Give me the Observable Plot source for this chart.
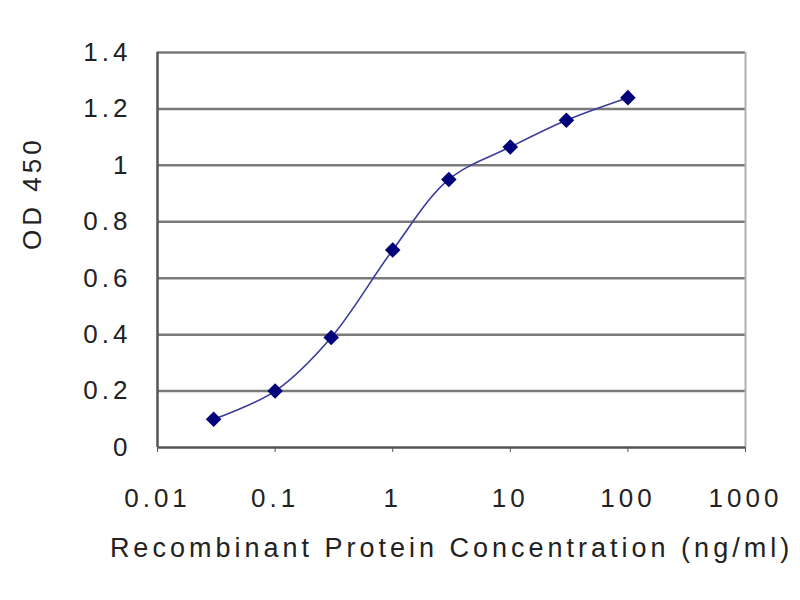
<!DOCTYPE html>
<html>
<head>
<meta charset="utf-8">
<script src="https://cdn.jsdelivr.net/npm/d3@7"></script>
<script src="https://cdn.jsdelivr.net/npm/@observablehq/plot@0.6"></script>
<style>
  body { margin: 0; background: #fff; }
</style>
</head>
<body>
<div id="chart"></div>
<script>
const concentrations = [0.03, 0.1, 0.3, 1, 3, 10, 30, 100];
const od450 = [0.10, 0.20, 0.39, 0.70, 0.95, 1.065, 1.16, 1.24];
const xTicks = [0.01, 0.1, 1, 10, 100, 1000];
const xTickLabels = ["0.01", "0.1", "1", "10", "100", "1000"];
const yTicks = [0, 0.2, 0.4, 0.6, 0.8, 1, 1.2, 1.4];
const yTickLabels = ["0", "0.2", "0.4", "0.6", "0.8", "1", "1.2", "1.4"];
const xTitle = "Recombinant Protein Concentration (ng/ml)";
const yTitle = "OD 450";

const data = concentrations.map((c, i) => ({c, od: od450[i]}));
const gridValues = yTicks.filter(v => v > 0);

const chart = Plot.plot({
  width: 800,
  height: 600,
  marginLeft: 157,
  marginRight: 55,
  marginTop: 52,
  marginBottom: 153,
  style: {fontFamily: "'Liberation Sans', Arial, sans-serif", fontSize: "26px", color: "#222", background: "#fff", letterSpacing: "4px"},
  x: {type: "log", domain: [0.01, 1000]},
  y: {domain: [0, 1.4]},
  marks: [
    Plot.ruleY(gridValues, {stroke: "#7a7a7a", strokeWidth: 2.5}),
    Plot.ruleX([1000], {stroke: "#b0b0b0", strokeWidth: 2}),
    Plot.ruleY([0], {stroke: "#555", strokeWidth: 2.5}),
    Plot.ruleX([0.01], {stroke: "#555", strokeWidth: 2.5}),
    Plot.axisX({ticks: xTicks, tickFormat: d => xTickLabels[xTicks.indexOf(d)], tickSize: 5, tickPadding: 36, stroke: "#555", fill: "#222", fontSize: 26, label: null}),
    Plot.axisY({ticks: yTicks, tickFormat: d => yTickLabels[yTicks.indexOf(d)], tickSize: 0, tickPadding: 26, fill: "#222", fontSize: 26, label: null}),
    Plot.line(data, {x: "c", y: "od", stroke: "#3b3b9c", strokeWidth: 1.6, curve: "catmull-rom"}),
    Plot.dot(data, {x: "c", y: "od", symbol: "diamond2", r: 7, fill: "#00007a", stroke: "none"}),
    Plot.text([xTitle], {frameAnchor: "bottom", dy: 109, dx: 0, fontSize: 27, fill: "#222", text: d => d}),
    Plot.text([yTitle], {frameAnchor: "left", dx: -125, rotate: -90, fontSize: 26, fill: "#222", text: d => d})
  ]
});
document.getElementById("chart").appendChild(chart);
</script>
</body>
</html>
